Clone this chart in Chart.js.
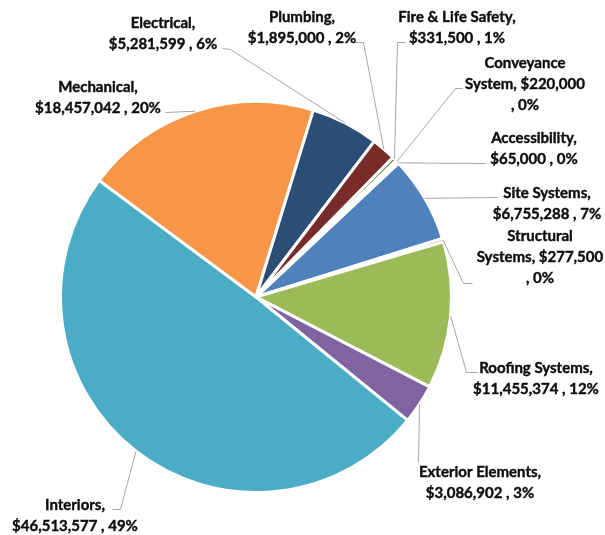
<!DOCTYPE html>
<html><head><meta charset="utf-8">
<script src="https://cdn.jsdelivr.net/npm/chart.js@4.4.1/dist/chart.umd.min.js"></script>
<style>html,body{margin:0;padding:0;background:#fff}#wrap{width:605px;height:535px;position:relative}</style>
</head><body><div id="wrap"><canvas id="c" width="605" height="535"></canvas></div>
<script>
// ---- data ----
const categories = ["Site Systems","Structural Systems","Roofing Systems","Exterior Elements","Interiors","Mechanical","Electrical","Plumbing","Fire & Life Safety","Conveyance System","Accessibility"];
const values = [6755288,277500,11455374,3086902,46513577,18457042,5281599,1895000,331500,220000,65000];
const colors = ["#4F81BD","#C0504D","#9BBB59","#8064A2","#4BACC6","#F79646","#2C4D75","#772C2A","#5F7530","#4D3B62","#276A7C"];

// ---- label layout (positions only) ----
// cx, cy: center of first text line; breaks: words per line; anchor/elbow: leader line points
const labelLayout = [
  {cx:547, cy:193, breaks:null, anchor:[497,197], elbow:null},
  {cx:540, cy:236, breaks:[1,2,2], anchor:[472,283], elbow:[463,283]},
  {cx:536, cy:368, breaks:null, anchor:[477,372], elbow:[466,372]},
  {cx:480, cy:472, breaks:null, anchor:[418,462], elbow:null},
  {cx:75,  cy:505, breaks:null, anchor:[112,509], elbow:[120,509]},
  {cx:98,  cy:87,  breaks:null, anchor:[165,112], elbow:null},
  {cx:163, cy:23,  breaks:null, anchor:[222,48], elbow:[230,49]},
  {cx:302, cy:17,  breaks:null, anchor:[353,42], elbow:[363,42]},
  {cx:457, cy:17,  breaks:null, anchor:[405,42], elbow:[397,42]},
  {cx:525, cy:63,  breaks:[1,2,2], anchor:[462,88], elbow:[455,88]},
  {cx:534, cy:138, breaks:null, anchor:[485,163], elbow:null}
];
const LINE_H = 21.3;
const FONT = "bold 15px Lato";

function fmt(n){ return "$" + String(n).replace(/\B(?=(\d{3})+(?!\d))/g, ","); }
// Excel-like percentages (largest remainder so they sum to 100)
function percents(vals){
  const tot = vals.reduce((a,b)=>a+b,0);
  const raw = vals.map(v=>v/tot*100);
  const fl = raw.map(Math.floor);
  let rem = 100 - fl.reduce((a,b)=>a+b,0);
  const order = raw.map((r,i)=>[r-Math.floor(r),i]).sort((a,b)=>b[0]-a[0]);
  for(let k=0;k<rem;k++) fl[order[k][1]]++;
  return fl;
}
const pcts = percents(values);

function labelLines(i){
  const full = categories[i] + ", " + fmt(values[i]) + " , " + pcts[i] + "%";
  const words = full.split(" ");
  let br = labelLayout[i].breaks;
  if(!br){ const n = categories[i].split(" ").length; br = [n, words.length-n]; }
  const lines=[]; let p=0;
  for(const b of br){ lines.push(words.slice(p,p+b).join(" ")); p+=b; }
  return lines;
}

const labelsPlugin = {
  id:'pieLabels',
  afterDraw(chart){
    const ctx = chart.ctx;
    const meta = chart.getDatasetMeta(0);
    ctx.save();
    meta.data.forEach((arc,i)=>{
      const L = labelLayout[i];
      const p = arc.getProps(['x','y','startAngle','endAngle','outerRadius'], true);
      const mid = (p.startAngle+p.endAngle)/2;
      const ex = p.x + Math.cos(mid)*p.outerRadius, ey = p.y + Math.sin(mid)*p.outerRadius;
      ctx.strokeStyle = "#A6A6A6"; ctx.lineWidth = 1;
      ctx.beginPath();
      ctx.moveTo(L.anchor[0]+0.5, L.anchor[1]+0.5);
      if(L.elbow) ctx.lineTo(L.elbow[0]+0.5, L.elbow[1]+0.5);
      ctx.lineTo(ex, ey);
      ctx.stroke();
      ctx.fillStyle = "#0d0d0d"; ctx.strokeStyle = "#0d0d0d"; ctx.lineWidth = 0.4;
      ctx.font = FONT;
      ctx.textAlign = "center"; ctx.textBaseline = "middle";
      labelLines(i).forEach((t,k)=>{
        ctx.fillText(t, L.cx, L.cy + k*LINE_H);
        ctx.strokeText(t, L.cx, L.cy + k*LINE_H);
      });
    });
    ctx.restore();
  }
};

new Chart(document.getElementById('c'), {
  type:'pie',
  data:{ labels:categories, datasets:[{ data:values, backgroundColor:colors, borderColor:"#ffffff", borderWidth:3 }]},
  options:{
    responsive:false, animation:false, rotation:46.8,
    layout:{ padding:{ left:59, right:152, top:100, bottom:41 } },
    plugins:{ legend:{display:false}, tooltip:{enabled:false} }
  },
  plugins:[labelsPlugin]
});
</script></body></html>
